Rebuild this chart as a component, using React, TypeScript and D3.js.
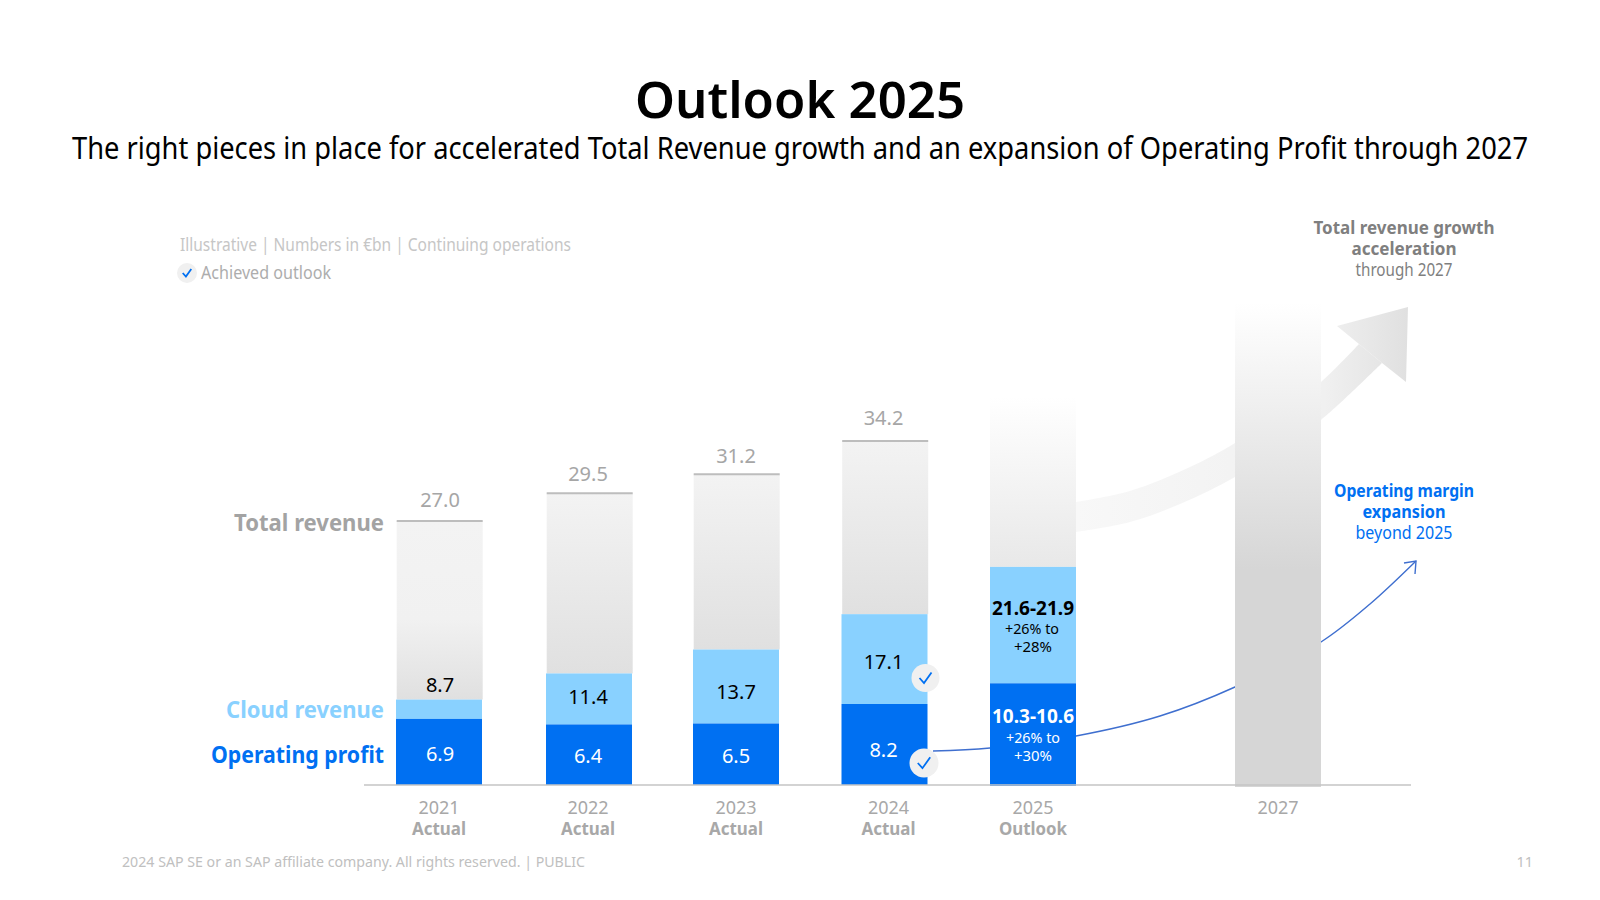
import React from "react";
import * as d3 from "d3";

const years = [2021, 2022, 2023, 2024, 2025, 2027];
const actualYears = [2021, 2022, 2023, 2024];
const yearNotes = ["Actual", "Actual", "Actual", "Actual", "Outlook", ""];
const totalRevenue = [27.0, 29.5, 31.2, 34.2];
const cloudRevenue = [8.7, 11.4, 13.7, 17.1];
const operatingProfit = [6.9, 6.4, 6.5, 8.2];
const cloud2025 = 21.9;
const profit2025 = 10.45;
const fadedTotal2025 = 38.3;
const fadedTotal2027 = 47;
// the picture's illustrative bars are not strictly proportional
const yKnots = [0, 6.5, 8.2, 10, 20, 27, 34.2, 47];
const yPixels = [785, 723.5, 704, 688, 584, 521, 441, 303];
const xKnots = [2021, 2022, 2023, 2025, 2027];
const xPixels = [439, 589, 736, 1033, 1278];

const marginCurveTop: [number, number][] = [[1076, 502], [1130, 491], [1190, 467], [1235, 443], [1290, 405], [1321, 382], [1359, 344]];
const marginCurveBottom: [number, number][] = [[1382, 363], [1321, 420], [1290, 441], [1235, 477], [1180, 504], [1130, 522], [1076, 532]];
const arrowHead: [number, number][] = [[1359, 344], [1337, 326], [1408, 307], [1406, 382], [1382, 363]];
const thinCurve: [number, number][] = [[933, 751], [990, 748], [1076, 736], [1160, 716], [1235, 687], [1321, 642], [1370, 604], [1416, 561]];
const thinHead: [number, number][] = [[1404, 563], [1416, 561], [1415, 574]];

const BLUE = "#0070f2";
const SKY = "#89d1ff";
const FONT = "'Noto Sans', sans-serif";
const W = 86;

const x = d3.scaleLinear().domain(xKnots).range(xPixels);
const y = d3.scaleLinear().domain(yKnots).range(yPixels);
const curve = d3.line().curve(d3.curveCatmullRom.alpha(0.5));
const straight = d3.line();

const T = ({ px, py, s, w = 400, c, a = "middle", len, children }: any) => (
  <text x={px} y={py} fontSize={s} fontWeight={w} fill={c} textAnchor={a} fontFamily={FONT}
    textLength={len} lengthAdjust={len ? "spacingAndGlyphs" : undefined}>{children}</text>
);

const Check = ({ cx, cy, r }: any) => {
  const k = r / 14;
  return (
    <g>
      <circle cx={cx} cy={cy} r={r} fill="#f0f0f0" />
      <path d={straight([[cx - 6 * k, cy], [cx - 1.5 * k, cy + 5 * k], [cx + 6 * k, cy - 5.5 * k]])!}
        fill="none" stroke={BLUE} strokeWidth={1.8} />
    </g>
  );
};

const totalDy = [-14, -12, -11, -16];
const cloudDy = [-8, 5, 12, 10];
const profitDy = [9, 8, 9, 12];
const labelNudge = [1, -1, 0, -1];

export default function App() {
  const base = y(0);
  const outlineShape = [
    curve(marginCurveTop)!,
    curve(marginCurveBottom)!.replace(/^M/, "L"),
    "Z",
  ].join("");
  return (
    <svg width={1600} height={900} style={{ position: "fixed", left: 0, top: 0, background: "#fff" }}>
      <defs>
        <linearGradient id="g-2021" x1="0" y1="0" x2="0" y2="1">
          <stop offset="0" stopColor="#f3f3f3" />
          <stop offset="0.55" stopColor="#f1f1f1" />
          <stop offset="1" stopColor="#e0e0e0" />
        </linearGradient>
        <linearGradient id="g-actual" x1="0" y1="0" x2="0" y2="1">
          <stop offset="0" stopColor="#f3f3f3" />
          <stop offset="1" stopColor="#e0e0e0" />
        </linearGradient>
        <linearGradient id="g-2025" x1="0" y1="0" x2="0" y2="1">
          <stop offset="0" stopColor="#ffffff" />
          <stop offset="1" stopColor="#e8e8e8" />
        </linearGradient>
        <linearGradient id="g-2027" x1="0" y1="0" x2="0" y2="1">
          <stop offset="0" stopColor="#ffffff" />
          <stop offset="0.55" stopColor="#d6d6d6" />
          <stop offset="1" stopColor="#d6d6d6" />
        </linearGradient>
        <linearGradient id="g-arrow" gradientUnits="userSpaceOnUse" x1="1076" y1="0" x2="1408" y2="0">
          <stop offset="0" stopColor="#f8f8f8" />
          <stop offset="0.75" stopColor="#f0f0f0" />
          <stop offset="1" stopColor="#e0e0e0" />
        </linearGradient>
      </defs>

      <T px={800} py={118} s={50} w={600} c="#000" len={330}>Outlook 2025</T>
      <T px={800} py={159} s={31} c="#000" len={1456}>The right pieces in place for accelerated Total Revenue growth and an expansion of Operating Profit through 2027</T>

      <T px={180} py={251} s={18.5} c="#c6c6c6" a="start" len={391}>Illustrative | Numbers in €bn | Continuing operations</T>
      <Check cx={187} cy={273} r={10} />
      <T px={201} py={279} s={17.5} c="#adadad" a="start" len={130}>Achieved outlook</T>

      {/* curved revenue arrow, behind the bars */}
      <path d={outlineShape} fill="url(#g-arrow)" />
      <path d={straight(arrowHead)! + "Z"} fill="url(#g-arrow)" />

      {/* thin margin arrow */}
      <path d={curve(thinCurve)!} fill="none" stroke="#3f6fcf" strokeWidth={1.4} />
      <path d={straight(thinHead)!} fill="none" stroke="#3f6fcf" strokeWidth={1.4} />

      {actualYears.map((yr, i) => {
        const left = x(yr) - W / 2;
        return (
          <g key={yr}>
            <rect x={left + 0.7} y={y(totalRevenue[i])} width={W} height={y(cloudRevenue[i]) - y(totalRevenue[i])} fill={i === 0 ? "url(#g-2021)" : "url(#g-actual)"} />
            <line x1={left + 0.7} x2={left + W + 0.7} y1={y(totalRevenue[i])} y2={y(totalRevenue[i])} stroke="#bdbdbd" strokeWidth={2} />
            <rect x={left} y={y(cloudRevenue[i])} width={W} height={y(operatingProfit[i]) - y(cloudRevenue[i])} fill={SKY} />
            <rect x={left} y={y(operatingProfit[i])} width={W} height={base - y(operatingProfit[i])} fill={BLUE} />
          </g>
        );
      })}

      {/* 2025 outlook */}
      <rect x={x(2025) - W / 2} y={y(fadedTotal2025)} width={W} height={y(cloud2025) - y(fadedTotal2025)} fill="url(#g-2025)" />
      <rect x={x(2025) - W / 2} y={y(cloud2025)} width={W} height={y(profit2025) - y(cloud2025)} fill={SKY} />
      <rect x={x(2025) - W / 2} y={y(profit2025)} width={W} height={base + 1 - y(profit2025)} fill={BLUE} />

      {/* 2027 */}
      <rect x={x(2027) - W / 2} y={y(fadedTotal2027)} width={W} height={base + 2 - y(fadedTotal2027)} fill="url(#g-2027)" />

      <line x1={364} x2={1411} y1={base} y2={base} stroke="#c4c4c4" strokeWidth={1.6} />

      {actualYears.map((yr, i) => {
        const cx = x(yr) + labelNudge[i];
        const midCloud = (y(cloudRevenue[i]) + y(operatingProfit[i])) / 2;
        const midProfit = (y(operatingProfit[i]) + base) / 2;
        return (
          <g key={yr}>
            <T px={cx} py={y(totalRevenue[i]) + totalDy[i]} s={20} c="#a6a6a6">{totalRevenue[i].toFixed(1)}</T>
            <T px={cx} py={i === 0 ? y(cloudRevenue[i]) + cloudDy[i] : midCloud + cloudDy[i]} s={20} c="#000">{cloudRevenue[i].toFixed(1)}</T>
            <T px={cx} py={midProfit + profitDy[i]} s={20} c="#fff">{operatingProfit[i].toFixed(1)}</T>
          </g>
        );
      })}

      <T px={1033} py={615} s={20} w={700} c="#000" len={82}>21.6-21.9</T>
      <T px={1032} py={634} s={15} c="#000" len={54}>+26% to</T>
      <T px={1033} py={652} s={15} c="#000" len={38}>+28%</T>
      <T px={1033} py={723} s={20} w={700} c="#fff" len={82}>10.3-10.6</T>
      <T px={1033} py={743} s={15} c="#fff" len={54}>+26% to</T>
      <T px={1033} py={761} s={15} c="#fff" len={38}>+30%</T>

      <Check cx={925.5} cy={678} r={14} />
      <Check cx={924} cy={763} r={14.5} />

      {years.map((yr, i) => (
        <g key={yr}>
          <T px={x(yr) + (yr === 2024 ? 4 : yr === 2022 ? -1 : 0)} py={814} s={18} c="#a8a8a8">{yr}</T>
          {yearNotes[i] && <T px={x(yr) + (yr === 2024 ? 4 : yr === 2022 ? -1 : 0)} py={835} s={18} w={700} c="#a8a8a8" len={yearNotes[i] === "Actual" ? 54 : 68}>{yearNotes[i]}</T>}
        </g>
      ))}

      <T px={384} py={531} s={23.5} w={700} c="#a3a3a3" a="end" len={150}>Total revenue</T>
      <T px={384} py={718} s={23.5} w={700} c={SKY} a="end" len={158}>Cloud revenue</T>
      <T px={384} py={763} s={23.5} w={700} c={BLUE} a="end" len={173}>Operating profit</T>

      <T px={1404} py={234} s={18} w={700} c="#7f7f7f" len={181}>Total revenue growth</T>
      <T px={1404} py={255} s={18} w={700} c="#7f7f7f" len={105}>acceleration</T>
      <T px={1404} py={276} s={17.5} c="#7f7f7f" len={97}>through 2027</T>

      <T px={1404} py={497} s={18} w={700} c={BLUE} len={140}>Operating margin</T>
      <T px={1404} py={518} s={18} w={700} c={BLUE} len={83}>expansion</T>
      <T px={1404} py={539} s={17.5} c={BLUE} len={97}>beyond 2025</T>

      <T px={122} py={867} s={14.5} c="#c0c0c0" a="start" len={463}>2024 SAP SE or an SAP affiliate company. All rights reserved.  | PUBLIC</T>
      <T px={1533} py={867} s={14.5} c="#c0c0c0" a="end">11</T>
    </svg>
  );
}
